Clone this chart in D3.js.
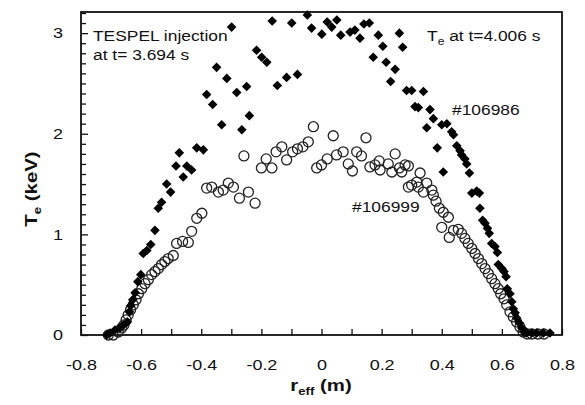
<!DOCTYPE html>
<html>
<head>
<meta charset="utf-8">
<script src="https://cdn.jsdelivr.net/npm/d3@7"></script>
<style>
  body { margin: 0; background: #fff; }
  svg text { font-family: "Liberation Sans", Arial, sans-serif; fill: #111; }
</style>
</head>
<body>
<div id="chart"></div>
<script>
// shot #106986 (filled diamonds), r_eff in m
const r106986 = [-0.714, -0.703, -0.687, -0.670, -0.659, -0.646, -0.639, -0.635, -0.628, -0.620,
    -0.611, -0.601, -0.593, -0.581, -0.568, -0.554, -0.543, -0.532, -0.515, -0.502,
    -0.484, -0.473, -0.460, -0.448, -0.432, -0.415, -0.393, -0.382, -0.362, -0.349,
    -0.332, -0.315, -0.299, -0.282, -0.265, -0.249, -0.240, -0.216, -0.199, -0.182,
    -0.164, -0.147, -0.116, -0.099, -0.080, -0.047, -0.033, 0.001, 0.019, 0.034,
    0.051, 0.064, 0.095, 0.111, 0.128, 0.141, 0.159, 0.172, 0.189, 0.204,
    0.215, 0.230, 0.245, 0.259, 0.270, 0.283, 0.300, 0.311, 0.322, 0.339,
    0.350, 0.361, 0.372, 0.385, 0.400, 0.405, 0.417, 0.433, 0.439, 0.450,
    0.461, 0.466, 0.477, 0.483, 0.492, 0.500, 0.516, 0.525, 0.527, 0.536,
    0.544, 0.552, 0.558, 0.566, 0.577, 0.585, 0.588, 0.600, 0.607, 0.614,
    0.618, 0.627, 0.633, 0.638, 0.644, 0.649, 0.658, 0.666, 0.673, 0.682,
    0.699, 0.716, 0.738, 0.760]
// Te in keV
const te106986 = [0.00, 0.02, 0.05, 0.07, 0.10, 0.13, 0.23, 0.29, 0.35, 0.42,
    0.53, 0.60, 0.81, 0.84, 0.90, 1.04, 1.26, 1.32, 1.50, 1.42,
    1.68, 1.81, 1.57, 1.68, 1.64, 1.86, 1.84, 2.39, 2.29, 2.66,
    2.09, 2.55, 3.06, 2.41, 2.04, 2.47, 2.18, 2.83, 2.76, 2.71,
    3.12, 2.48, 2.56, 3.10, 2.59, 3.18, 3.05, 2.99, 3.11, 3.06,
    3.13, 2.98, 3.01, 3.03, 2.95, 3.09, 3.10, 2.76, 2.98, 2.87,
    2.71, 2.52, 2.64, 3.00, 2.86, 2.43, 2.43, 2.27, 2.26, 2.42,
    2.06, 2.24, 2.15, 1.86, 2.09, 1.62, 2.10, 2.02, 1.99, 1.88,
    1.83, 1.79, 1.75, 1.70, 1.61, 1.41, 1.43, 1.41, 1.26, 1.14,
    1.11, 1.06, 1.01, 0.91, 0.88, 0.82, 0.70, 0.66, 0.63, 0.58,
    0.46, 0.41, 0.33, 0.26, 0.22, 0.17, 0.12, 0.07, 0.03, 0.02,
    0.02, 0.02, 0.02, 0.02]

// shot #106999 (open circles)
const r106999 = [-0.709, -0.693, -0.676, -0.665, -0.657, -0.650, -0.643, -0.635, -0.626, -0.617,
    -0.609, -0.598, -0.587, -0.576, -0.565, -0.554, -0.543, -0.532, -0.521, -0.510,
    -0.493, -0.482, -0.462, -0.443, -0.432, -0.415, -0.398, -0.382, -0.365, -0.343,
    -0.327, -0.310, -0.293, -0.273, -0.258, -0.243, -0.221, -0.200, -0.184, -0.165,
    -0.151, -0.132, -0.116, -0.096, -0.080, -0.062, -0.044, -0.027, -0.016, 0.000,
    0.019, 0.039, 0.050, 0.072, 0.089, 0.103, 0.117, 0.133, 0.148, 0.161,
    0.178, 0.192, 0.195, 0.222, 0.234, 0.245, 0.259, 0.267, 0.278, 0.289,
    0.289, 0.300, 0.317, 0.322, 0.328, 0.339, 0.350, 0.367, 0.372, 0.381,
    0.392, 0.400, 0.405, 0.422, 0.425, 0.439, 0.455, 0.466, 0.477, 0.488,
    0.500, 0.511, 0.522, 0.533, 0.544, 0.555, 0.566, 0.577, 0.588, 0.596,
    0.607, 0.616, 0.627, 0.638, 0.649, 0.660, 0.671, 0.685, 0.700, 0.720,
    0.740]
const te106999 = [0.00, 0.00, 0.03, 0.07, 0.10, 0.15, 0.20, 0.25, 0.30, 0.35,
    0.41, 0.46, 0.51, 0.55, 0.60, 0.63, 0.66, 0.70, 0.73, 0.76,
    0.79, 0.91, 0.93, 0.92, 1.03, 1.16, 1.21, 1.46, 1.47, 1.42,
    1.44, 1.51, 1.47, 1.36, 1.78, 1.42, 1.31, 1.66, 1.75, 1.66,
    1.82, 1.87, 1.74, 1.82, 1.85, 1.87, 1.92, 2.07, 1.66, 1.69,
    1.75, 1.98, 1.79, 1.82, 1.70, 1.63, 1.82, 1.78, 1.96, 1.67,
    1.69, 1.73, 1.64, 1.70, 1.62, 1.80, 1.66, 1.62, 1.69, 1.68,
    1.47, 1.49, 1.52, 1.47, 1.61, 1.42, 1.51, 1.44, 1.39, 1.33,
    1.26, 1.07, 1.22, 1.17, 0.97, 1.04, 1.05, 1.01, 0.96, 0.91,
    0.86, 0.81, 0.76, 0.71, 0.66, 0.61, 0.56, 0.51, 0.46, 0.41,
    0.36, 0.30, 0.23, 0.18, 0.13, 0.08, 0.03, 0.01, 0.01, 0.01,
    0.01]

const xTicks = d3.range(-8, 9).map(d => d / 10)
const yTicks = d3.range(0, 33).map(d => d / 10)

const dimensions = {
    width: 585,
    height: 405,
    margin: { top: 12, right: 23, bottom: 70, left: 81 }
}
const dm = dimensions.margin

// the original lettering is wider than Arial, stretch it a bit
const wide = 'scale(1.2,1)'

const svg = d3.select('#chart')
    .append('svg')
    .attr('width', dimensions.width)
    .attr('height', dimensions.height)

const x = d3.scaleLinear()
    .domain([-0.8, 0.8])
    .range([dm.left, dimensions.width - dm.right])

const y = d3.scaleLinear()
    .domain([0, 3.21])
    .range([dimensions.height - dm.bottom, dm.top])

const fmt = d => Math.abs(d) < 1e-9 ? '0' : d.toFixed(1)

// x axis, ticks pointing inward every 0.1, labels every 0.2
const xAxis = svg.append('g')
    .attr('transform', `translate(0,${y(0)})`)
    .call(d3.axisBottom(x)
        .tickValues(xTicks)
        .tickSize(-6)
        .tickPadding(24)
        .tickFormat(d => Math.round(d * 10) % 2 === 0 ? fmt(d) : ''))
xAxis.select('.domain').remove()

// y axis
const yAxis = svg.append('g')
    .attr('transform', `translate(${x(-0.8)},0)`)
    .call(d3.axisLeft(y)
        .tickValues(yTicks)
        .tickSize(-5)
        .tickPadding(15)
        .tickFormat(d => Math.round(d * 10) % 10 === 0 ? d3.format('d')(d) : ''))
yAxis.select('.domain').remove()
yAxis.selectAll('.tick line')
    .attr('x2', d => Math.round(d * 10) % 10 === 0 ? 7 : 5)

svg.selectAll('.tick line').attr('stroke', '#111').attr('stroke-width', 1.3)
svg.selectAll('.tick text')
    .style('font-size', '15px')
    .attr('fill', '#111')
    .attr('transform', wide)

// frame
svg.append('rect')
    .attr('x', x(-0.8))
    .attr('y', y(3.21))
    .attr('width', x(0.8) - x(-0.8))
    .attr('height', y(0) - y(3.21))
    .attr('fill', 'none')
    .attr('stroke', '#111')
    .attr('stroke-width', 1.8)

// open circles, #106999
svg.append('g')
    .selectAll('circle')
    .data(d3.zip(r106999, te106999))
    .join('circle')
    .attr('cx', d => x(d[0]))
    .attr('cy', d => y(d[1]))
    .attr('r', 5)
    .attr('fill', 'none')
    .attr('stroke', '#222')
    .attr('stroke-width', 1.3)

// filled diamonds, #106986
const diamond = d3.symbol(d3.symbolSquare, 46)
svg.append('g')
    .selectAll('path')
    .data(d3.zip(r106986, te106986))
    .join('path')
    .attr('d', diamond)
    .attr('transform', d => `translate(${x(d[0])},${y(d[1])}) rotate(45)`)
    .attr('fill', '#000')

// annotations
const note = (px, py) => svg.append('text')
    .attr('transform', `translate(${px},${py}) ${wide}`)
    .style('font-size', '14.5px')

note(93, 41).text('TESPEL injection')
note(93, 60).text('at t= 3.694 s')
note(452, 115).text('#106986')
note(352, 212).text('#106999')

const teNote = note(427, 41)
teNote.append('tspan').text('T')
teNote.append('tspan').attr('dy', 4).style('font-size', '10px').text('e')
teNote.append('tspan').attr('dy', -4).text(' at t=4.006 s')

// axis titles
const xTitle = svg.append('text')
    .attr('transform', `translate(321,391) ${wide}`)
    .attr('text-anchor', 'middle')
    .style('font-size', '17px')
    .style('font-weight', 'bold')
xTitle.append('tspan').text('r')
xTitle.append('tspan').attr('dy', 4).style('font-size', '11px').text('eff')
xTitle.append('tspan').attr('dy', -4).text(' (m)')

const yTitle = svg.append('text')
    .attr('transform', `translate(37,189) rotate(-90) ${wide}`)
    .attr('text-anchor', 'middle')
    .style('font-size', '17px')
    .style('font-weight', 'bold')
yTitle.append('tspan').text('T')
yTitle.append('tspan').attr('dy', 4).style('font-size', '11px').text('e')
yTitle.append('tspan').attr('dy', -4).text(' (keV)')
</script>
</body>
</html>
